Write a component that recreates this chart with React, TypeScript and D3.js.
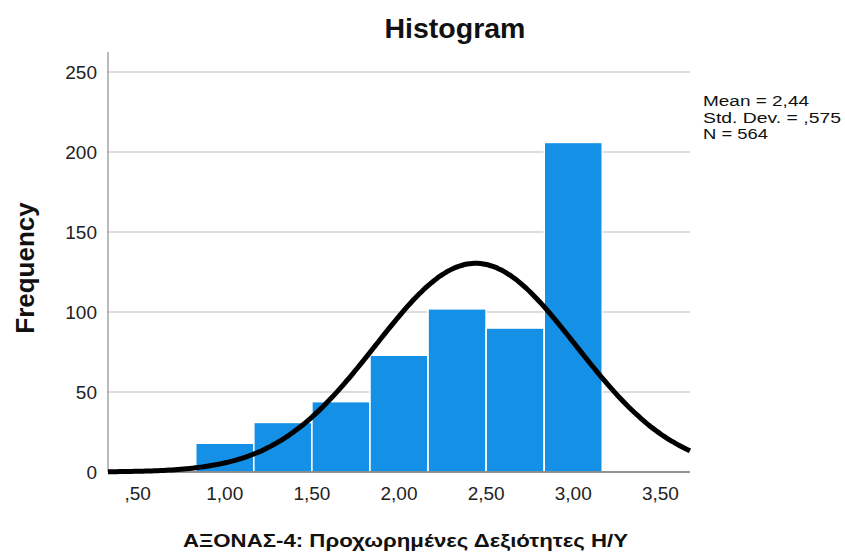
import React, { useEffect, useRef } from 'react'
import * as d3 from 'd3'

// histogram bins (centres) and counts
const binCenters = [1.0, 1.3333, 1.6667, 2.0, 2.3333, 2.6667, 3.0]
const counts = [18, 31, 44, 73, 102, 90, 206]
const xTicks = [0.5, 1.0, 1.5, 2.0, 2.5, 3.0, 3.5]
const xTickLabels = [',50', '1,00', '1,50', '2,00', '2,50', '3,00', '3,50']
const yTicks = [0, 50, 100, 150, 200, 250]
const statLines = ['Mean = 2,44', 'Std. Dev. = ,575', 'N = 564']
const statWidths = [106, 138, 65]
const mean = 2.44
const sd = 0.575
const n = 564
const binWidth = 1 / 3

const W = 845
const H = 554
const margin = { left: 108, right: 155, top: 52, bottom: 82 }

const App = () => {
  const ref = useRef<SVGSVGElement>(null)

  useEffect(() => {
    const svg = d3.select(ref.current)
    svg.selectAll('*').remove()

    const x = d3.scaleLinear().domain([0.33, 3.67]).range([margin.left, W - margin.right])
    const y = d3.scaleLinear().domain([0, 262.5]).range([H - margin.bottom, margin.top])
    const font = 'Arial, "Liberation Sans", sans-serif'

    // gridlines
    svg.append('g')
      .selectAll('line')
      .data(yTicks.filter(d => d > 0))
      .join('line')
      .attr('x1', x.range()[0])
      .attr('x2', x.range()[1])
      .attr('y1', d => y(d))
      .attr('y2', d => y(d))
      .attr('stroke', '#d2d2d2')
      .attr('stroke-width', 1.6)

    // bars
    svg.append('g')
      .selectAll('rect')
      .data(binCenters)
      .join('rect')
      .attr('x', d => x(d - binWidth / 2))
      .attr('width', d => x(d + binWidth / 2) - x(d - binWidth / 2))
      .attr('y', (d, i) => y(counts[i]))
      .attr('height', (d, i) => y(0) - y(counts[i]))
      .attr('fill', '#1490e6')
      .attr('stroke', '#ffffff')
      .attr('stroke-width', 1.6)

    // axes lines
    svg.append('line')
      .attr('x1', x.range()[0]).attr('x2', x.range()[0])
      .attr('y1', margin.top).attr('y2', y(0))
      .attr('stroke', '#8c8c8c').attr('stroke-width', 1.2)
    svg.append('line')
      .attr('x1', x.range()[0]).attr('x2', x.range()[1])
      .attr('y1', y(0)).attr('y2', y(0))
      .attr('stroke', '#6e6e6e').attr('stroke-width', 1.4)

    // normal curve
    const xs = d3.range(0, 201).map(i => 0.33 + (3.67 - 0.33) * i / 200)
    const pdf = (v: number) => n * binWidth * Math.exp(-0.5 * ((v - mean) / sd) ** 2) / (sd * Math.sqrt(2 * Math.PI))
    svg.append('path')
      .datum(xs)
      .attr('d', d3.line<number>().x(d => x(d)).y(d => y(pdf(d))).curve(d3.curveBasis))
      .attr('fill', 'none')
      .attr('stroke', '#000')
      .attr('stroke-width', 5)

    // y tick labels
    svg.append('g')
      .selectAll('text')
      .data(yTicks)
      .join('text')
      .attr('x', 97)
      .attr('y', d => y(d) + 7)
      .attr('text-anchor', 'end')
      .attr('font-family', font)
      .attr('font-size', 19)
      .attr('fill', '#222')
      .text(d => d)

    // x tick labels
    svg.append('g')
      .selectAll('text')
      .data(xTicks)
      .join('text')
      .attr('x', d => x(d))
      .attr('y', 500)
      .attr('text-anchor', 'middle')
      .attr('font-family', font)
      .attr('font-size', 19)
      .attr('fill', '#222')
      .text((d, i) => xTickLabels[i])

    // title
    svg.append('text')
      .attr('x', 455).attr('y', 38)
      .attr('text-anchor', 'middle')
      .attr('font-family', font)
      .attr('font-weight', 'bold')
      .attr('font-size', 28.5)
      .attr('fill', '#111')
      .text('Histogram')

    // y axis title
    svg.append('text')
      .attr('transform', 'translate(34,268) rotate(-90)')
      .attr('text-anchor', 'middle')
      .attr('font-family', font)
      .attr('font-weight', 'bold')
      .attr('font-size', 26)
      .attr('fill', '#111')
      .text('Frequency')

    // x axis title
    svg.append('text')
      .attr('x', 183).attr('y', 547)
      .attr('font-family', font)
      .attr('font-weight', 'bold')
      .attr('font-size', 18.5)
      .attr('fill', '#111')
      .attr('textLength', 445)
      .attr('lengthAdjust', 'spacingAndGlyphs')
      .text('ΑΞΟΝΑΣ-4: Προχωρημένες Δεξιότητες Η/Υ')

    // stats box
    svg.append('g')
      .selectAll('text')
      .data(statLines)
      .join('text')
      .attr('x', 703)
      .attr('y', (d, i) => 106 + i * 16.5)
      .attr('font-family', font)
      .attr('font-size', 15.5)
      .attr('fill', '#111')
      .attr('textLength', (d, i) => statWidths[i])
      .attr('lengthAdjust', 'spacingAndGlyphs')
      .text(d => d)
  }, [])

  return <svg ref={ref} width={W} height={H} style={{ position: 'absolute', left: 0, top: 0 }} />
}

export default App
